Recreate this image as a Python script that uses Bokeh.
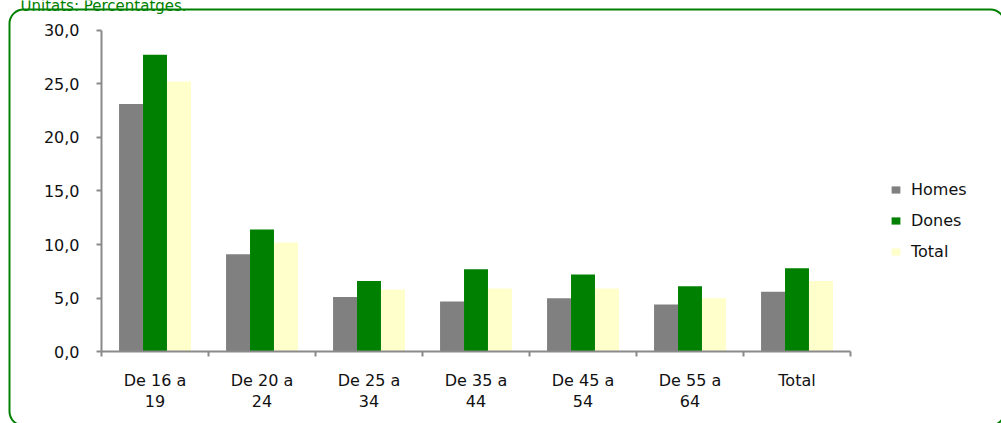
from bokeh.plotting import figure
from bokeh.models import (FixedTicker, Legend, LegendItem, BoxAnnotation,
                          ColumnDataSource, Range1d, Label)
from bokeh.transform import dodge
from bokeh.embed import file_html
from bokeh.resources import INLINE

categories = ["De 16 a\n19", "De 20 a\n24", "De 25 a\n34", "De 35 a\n44",
              "De 45 a\n54", "De 55 a\n64", "Total"]
homes = [23.1, 9.1, 5.1, 4.7, 5.0, 4.4, 5.6]
dones = [27.7, 11.4, 6.6, 7.7, 7.2, 6.1, 7.8]
total = [25.2, 10.2, 5.8, 5.9, 5.9, 5.0, 6.6]
series_names = ["Homes", "Dones", "Total"]
series_colors = ["#808080", "#008000", "#FFFFCC"]
y_ticks = [0, 5, 10, 15, 20, 25, 30]
y_tick_labels = ["0,0", "5,0", "10,0", "15,0", "20,0", "25,0", "30,0"]
subtitle = "Unitats: Percentatges."

FONT = "DejaVu Sans"
GREY = "#8a8a8a"
W, H = 1001, 423
# plot-area geometry in pixels
FL, FR, FT, FB = 101, 850, 29.5, 351.3

n = len(categories)
centers = [i + 0.5 for i in range(n)]
bounds = list(range(n + 1))
src = ColumnDataSource(dict(x=centers, Homes=homes, Dones=dones, Total=total))

xu = (FR - FL) / n
yu = (FB - FT) / (y_ticks[-1] - y_ticks[0])
x_range = Range1d(-FL / xu, n + (W - FR) / xu)
y_range = Range1d(-(H - FB) / yu, y_ticks[-1] + FT / yu)

p = figure(width=W, height=H, x_range=x_range, y_range=y_range,
           output_backend="svg", toolbar_location=None, min_border=0)
p.outline_line_color = None
p.grid.visible = False
p.background_fill_color = "white"
p.border_fill_color = "white"

bw = 0.224
offsets = [-bw, 0.0, bw]
items = []
for name, col, off in zip(series_names, series_colors, offsets):
    r = p.vbar(x=dodge("x", off), top=name, width=bw, bottom=0, source=src,
               fill_color=col, line_color=None)
    items.append(LegendItem(label=name, renderers=[r]))

# y axis
ya = p.yaxis[0]
ya.fixed_location = 0
ya.bounds = (y_ticks[0], y_ticks[-1])
ya.ticker = FixedTicker(ticks=y_ticks)
ya.major_label_overrides = {t: l for t, l in zip(y_ticks, y_tick_labels)}
ya.axis_line_color = GREY
ya.axis_line_width = 2
ya.major_tick_line_color = GREY
ya.major_tick_line_width = 2
ya.major_tick_out = 5
ya.major_tick_in = 0
ya.minor_tick_line_color = None
ya.major_label_standoff = 17
ya.major_label_text_font = FONT
ya.major_label_text_font_size = "16px"
ya.major_label_text_color = "#111111"

# x axis
xa = p.xaxis[0]
xa.fixed_location = 0
xa.bounds = (0, n)
xa.ticker = FixedTicker(ticks=centers, minor_ticks=bounds)
xa.major_label_overrides = {c: l for c, l in zip(centers, categories)}
xa.axis_line_color = GREY
xa.axis_line_width = 2
xa.major_tick_line_color = None
xa.major_tick_out = 0
xa.major_tick_in = 0
xa.minor_tick_line_color = GREY
xa.minor_tick_line_width = 2
xa.minor_tick_out = 5
xa.minor_tick_in = 0
xa.major_label_standoff = 14
xa.major_label_text_font = FONT
xa.major_label_text_font_size = "16px"
xa.major_label_text_color = "#111111"
xa.major_label_text_line_height = 1.1

legend = Legend(items=items, location=(890, 162), orientation="vertical",
                padding=0, margin=0, spacing=11,
                glyph_width=11, glyph_height=9, label_standoff=10,
                label_height=20,
                label_text_font=FONT, label_text_font_size="16px",
                label_text_color="#111111",
                border_line_color=None, background_fill_alpha=0)
p.add_layout(legend)

frame_box = BoxAnnotation(left=9, right=1004, top=9, bottom=425,
                          left_units="canvas", right_units="canvas",
                          top_units="canvas", bottom_units="canvas",
                          fill_alpha=0, line_color="#008000", line_alpha=1.0,
                          line_width=2, border_radius=14)
p.add_layout(frame_box)

title_lbl = Label(x=20, y=5, x_units="canvas", y_units="canvas",
                  text=subtitle, text_font=FONT, text_font_size="15px",
                  text_color="#008000", text_baseline="alphabetic")
p.add_layout(title_lbl)

open("out.html", "w").write(file_html(p, INLINE))
